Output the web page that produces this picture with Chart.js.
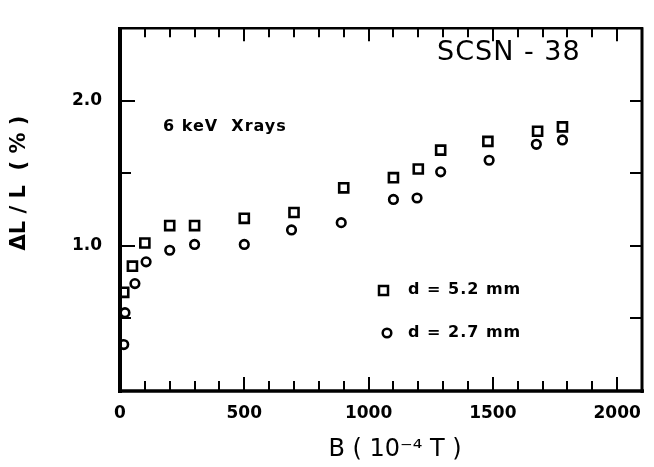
<!DOCTYPE html>
<html lang="en">
<head>
  <meta charset="UTF-8" />
  <title>SCSN-38 ΔL/L vs B</title>
  <script src="https://cdn.jsdelivr.net/npm/chart.js"></script>
  <style>
    html, body { margin: 0; padding: 0; background: #ffffff; overflow: hidden; }
    canvas { display: block; }
  </style>
</head>
<body>
  <canvas id="magChart" width="654" height="467"></canvas>

  <script>
    // data: B in 10^-4 T, dL/L in %
    const bThick = [15, 50, 100, 200, 300, 500, 700, 900, 1100, 1200, 1290, 1480, 1680, 1780];
    const dlThick = [0.68, 0.86, 1.02, 1.14, 1.14, 1.19, 1.23, 1.40, 1.47, 1.53, 1.66, 1.72, 1.79, 1.82];

    const bThin = [15, 20, 60, 105, 200, 300, 500, 690, 890, 1100, 1195, 1290, 1485, 1675, 1780];
    const dlThin = [0.32, 0.54, 0.74, 0.89, 0.97, 1.01, 1.01, 1.11, 1.16, 1.32, 1.33, 1.51, 1.59, 1.70, 1.73];

    const xLabels = [0, 500, 1000, 1500, 2000];
    const yLabels = [1.0, 2.0];

    const seriesNames = ['d = 5.2 mm', 'd = 2.7 mm'];
    const FONT = '"DejaVu Sans", sans-serif';
    const X_STEP = 100;
    const Y_STEP = 0.5;

    function toPoints(xs, ys) {
      return xs.map((x, i) => ({ x: x, y: ys[i] }));
    }

    // frame, inward ticks, titles and in-plot notes
    const paperPlugin = {
      id: 'paper',
      afterDraw(chart) {
        const ctx = chart.ctx;
        const a = chart.chartArea;
        const xs = chart.scales.x;
        const ys = chart.scales.y;
        ctx.save();
        ctx.strokeStyle = '#000';
        ctx.lineCap = 'butt';

        // ticks on x (bottom and top), every 100, longer at 500s
        ctx.lineWidth = 2;
        for (let v = xs.min + X_STEP; v < xs.max; v += X_STEP) {
          const px = Math.round(xs.getPixelForValue(v));
          const major = Math.round(v) % 500 === 0;
          ctx.beginPath();
          ctx.moveTo(px, a.bottom);
          ctx.lineTo(px, a.bottom - (major ? 14 : 10));
          ctx.moveTo(px, a.top);
          ctx.lineTo(px, a.top + (major ? 13 : 9));
          ctx.stroke();
        }
        // ticks on y (left and right), every 0.5
        for (let v = ys.min + Y_STEP; v < ys.max - 1e-6; v += Y_STEP) {
          const py = Math.round(ys.getPixelForValue(v));
          const major = Math.abs(v - Math.round(v)) < 1e-6;
          ctx.beginPath();
          ctx.moveTo(a.left, py);
          ctx.lineTo(a.left + (major ? 15 : 11), py);
          ctx.moveTo(a.right, py);
          ctx.lineTo(a.right - 12, py);
          ctx.stroke();
        }

        // frame
        ctx.lineWidth = 4;
        ctx.beginPath(); ctx.moveTo(a.left, a.top - 1); ctx.lineTo(a.left, a.bottom + 2); ctx.stroke();
        ctx.lineWidth = 3.5;
        ctx.beginPath(); ctx.moveTo(a.left - 2, a.bottom); ctx.lineTo(a.right + 2, a.bottom); ctx.stroke();
        ctx.lineWidth = 2.5;
        ctx.beginPath(); ctx.moveTo(a.left - 2, a.top); ctx.lineTo(a.right + 1, a.top); ctx.stroke();
        ctx.lineWidth = 3;
        ctx.beginPath(); ctx.moveTo(a.right, a.top - 1); ctx.lineTo(a.right, a.bottom + 2); ctx.stroke();

        // axis titles
        ctx.fillStyle = '#000';
        ctx.textBaseline = 'middle';
        ctx.textAlign = 'center';
        ctx.font = '24px ' + FONT;
        ctx.fillText('B ( 10\u207B\u2074 T )', 395, 450);

        ctx.save();
        ctx.translate(20, 183);
        ctx.rotate(-Math.PI / 2);
        ctx.font = 'bold 21px ' + FONT;
        ctx.fillText('\u0394L / L  ( % )', 0, 0);
        ctx.restore();

        // notes inside the plot
        ctx.textAlign = 'left';
        ctx.letterSpacing = '1px';
        ctx.font = '27px ' + FONT;
        ctx.fillText('SCSN - 38', 437, 53);
        ctx.font = 'bold 16px ' + FONT;
        ctx.fillText('6 keV  Xrays', 163, 127);

        // legend
        ctx.font = 'bold 16px ' + FONT;
        ctx.fillText(seriesNames[0], 408, 290);
        ctx.fillText(seriesNames[1], 408, 333);
        ctx.letterSpacing = '0px';
        ctx.lineWidth = 2.5;
        ctx.strokeRect(379, 286, 9, 9);
        ctx.beginPath();
        ctx.arc(387, 333, 4.3, 0, Math.PI * 2);
        ctx.stroke();

        ctx.restore();
      }
    };

    const ctx = document.getElementById('magChart').getContext('2d');
    new Chart(ctx, {
      type: 'scatter',
      data: {
        datasets: [
          {
            label: seriesNames[0],
            data: toPoints(bThick, dlThick),
            pointStyle: 'rect',
            pointRadius: 6.4,
            borderWidth: 2.6,
            borderColor: '#000',
            backgroundColor: 'rgba(255,255,255,0)',
          },
          {
            label: seriesNames[1],
            data: toPoints(bThin, dlThin),
            pointStyle: 'circle',
            pointRadius: 4.3,
            borderWidth: 2.6,
            borderColor: '#000',
            backgroundColor: 'rgba(255,255,255,0)',
          },
        ],
      },
      options: {
        responsive: false,
        animation: false,
        devicePixelRatio: 1,
        layout: { padding: { top: 8, right: 12, left: 0, bottom: 0 } },
        plugins: {
          legend: { display: false },
          tooltip: { enabled: false },
        },
        scales: {
          x: {
            type: 'linear',
            min: 0,
            max: 2100,
            grid: { display: false, drawTicks: false },
            border: { display: false },
            afterFit(scale) { scale.height = 76; },
            ticks: {
              stepSize: X_STEP,
              maxTicksLimit: 30,
              autoSkip: false,
              maxRotation: 0,
              padding: 12,
              color: '#000',
              font: { family: FONT, size: 17, weight: 'bold' },
              callback: v => (xLabels.includes(v) ? String(v) : ''),
            },
          },
          y: {
            type: 'linear',
            min: 0,
            max: 2.5,
            grid: { display: false, drawTicks: false },
            border: { display: false },
            afterFit(scale) { scale.width = 120; },
            ticks: {
              stepSize: Y_STEP,
              autoSkip: false,
              padding: 18,
              color: '#000',
              font: { family: FONT, size: 17, weight: 'bold' },
              callback: v => (yLabels.includes(v) ? v.toFixed(1) : ''),
            },
          },
        },
      },
      plugins: [paperPlugin],
    });
  </script>
</body>
</html>
